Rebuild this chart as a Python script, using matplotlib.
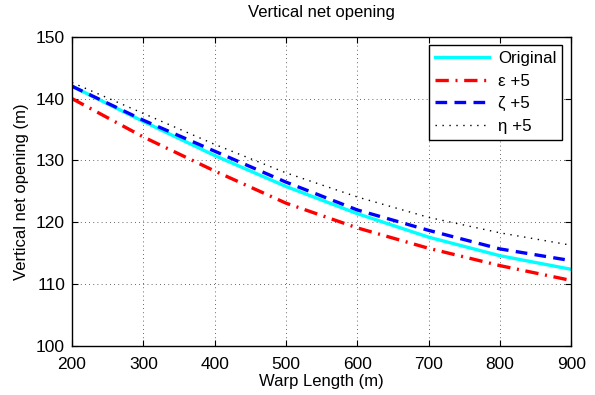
import matplotlib
matplotlib.use("Agg")
import matplotlib.pyplot as plt

plt.rcParams['font.family'] = ['Liberation Sans', 'DejaVu Sans']

warp_length = [200, 300, 400, 500, 600, 700, 800, 900]
original = [142.0, 136.3, 130.8, 125.8, 121.4, 117.6, 114.6, 112.4]
eps_plus5 = [140.0, 133.8, 128.3, 123.1, 119.1, 115.8, 113.0, 110.6]
zeta_plus5 = [142.0, 136.5, 131.5, 126.5, 122.0, 118.7, 115.7, 113.8]
eta_plus5 = [142.6, 137.6, 132.6, 128.0, 124.1, 120.8, 118.3, 116.3]
labels = ['Original', 'ε +5', 'ζ +5', 'η +5']
xticks = [200, 300, 400, 500, 600, 700, 800, 900]
yticks = [100, 110, 120, 130, 140, 150]

fig = plt.figure(figsize=(5.95, 3.95), dpi=100)
ax = fig.add_axes([0.121, 0.124, 0.839, 0.783])

ax.plot(warp_length, original, color='cyan', lw=2.4, ls='-', label=labels[0])
ax.plot(warp_length, eps_plus5, color='red', lw=2.4, ls=(0, (4, 2, 0.6, 2)), label=labels[1])
ax.plot(warp_length, zeta_plus5, color='blue', lw=2.4, ls=(0, (3.5, 2.2)), label=labels[2])
ax.plot(warp_length, eta_plus5, color='black', lw=1.0, ls=(0, (1, 4)), label=labels[3])

ax.set_xlim(200, 900)
ax.set_ylim(100, 150)
ax.set_xticks(xticks)
ax.set_yticks(yticks)
ax.tick_params(direction='in', top=True, right=True, labelsize=12.5, length=4, width=0.8)
ax.tick_params(axis='x', pad=8)
ax.tick_params(axis='y', pad=5)
ax.grid(True, ls=(0, (1, 4)), color='black', lw=0.6, alpha=0.8)
for s in ax.spines.values():
    s.set_linewidth(1.0)

ax.set_xlabel('Warp Length (m)', fontsize=12, labelpad=1)
ax.set_ylabel('Vertical net opening (m)', fontsize=12, labelpad=5)
ax.set_title('Vertical net opening', fontsize=12, pad=14)

leg = ax.legend(loc='upper right', bbox_to_anchor=(0.982, 0.973), borderaxespad=0,
                fontsize=12.2, fancybox=False, framealpha=1, edgecolor='black',
                handlelength=3.2, labelspacing=0.45, borderpad=0.35, handletextpad=0.5)
leg.get_frame().set_linewidth(1.0)

fig.savefig('out.png', dpi=100)
